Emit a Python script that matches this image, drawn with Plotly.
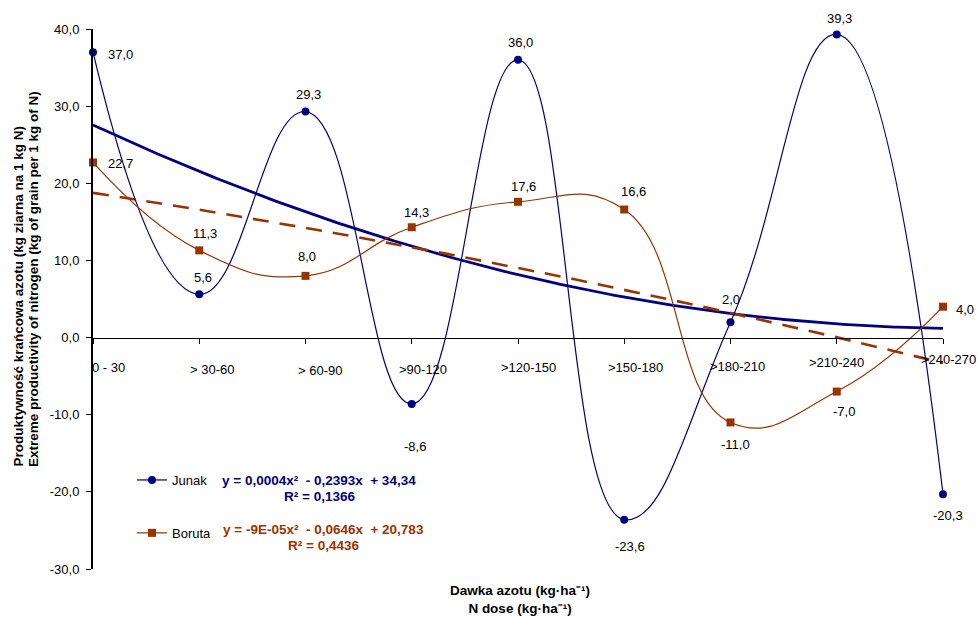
import numpy as np
import plotly.graph_objects as go

# Nitrogen dose classes (kg/ha) and marginal nitrogen productivity per variety
categories = ["0 - 30", "> 30-60", "> 60-90", ">90-120", ">120-150",
              ">150-180", ">180-210", ">210-240", ">240-270"]
dose_upper = [30, 60, 90, 120, 150, 180, 210, 240, 270]
junak = [37.0, 5.6, 29.3, -8.6, 36.0, -23.6, 2.0, 39.3, -20.3]
boruta = [22.7, 11.3, 8.0, 14.3, 17.6, 16.6, -11.0, -7.0, 4.0]
y_ticks = [-30, -20, -10, 0, 10, 20, 30, 40]

junak_eq = ["y = 0,0004x²  - 0,2393x  + 34,34", "R² = 0,1366"]
boruta_eq = ["y = -9E-05x²  - 0,0646x  + 20,783", "R² = 0,4436"]
y_title = ["Produktywność krańcowa azotu (kg ziarna na 1 kg N)",
           "Extreme productivity of nitrogen (kg of grain per 1 kg of N)"]
x_title = ["Dawka azotu (kg·ha⁻¹)", "N dose (kg·ha⁻¹)"]

NAVY = "#000080"
BROWN = "#993300"
FONT = "Liberation Sans, Arial, sans-serif"

# label offsets (px, screen direction) relative to each point
junak_off = [(27, 2), (4, -17), (3, -17), (3, 43), (2, -17), (6, 27), (0, -23), (3, -16), (5, 21)]
boruta_off = [(27, 1), (6, -17), (1, -19), (5, -15), (5, -15), (9, -18), (5, 22), (7, 20), (22, 3)]
# category label offsets below the zero line
cat_off = [(15, 30), (13, 32), (14, 33), (11, 32), (10, 30), (11, 30), (7, 29), (0, 25), (5, 22)]

x_idx = list(range(len(categories)))

fig = go.Figure()

# quadratic trend lines fitted against the dose
xs = np.linspace(0, len(categories) - 1, 300)
dose_fine = np.interp(xs, x_idx, dose_upper)
cj = np.polyfit(dose_upper, junak, 2)
cb = np.polyfit(dose_upper, boruta, 2)

fig.add_trace(go.Scatter(x=xs, y=np.polyval(cj, dose_fine), mode="lines",
                         line=dict(color=NAVY, width=2.8), showlegend=False,
                         hoverinfo="skip"))
fig.add_trace(go.Scatter(x=xs, y=np.polyval(cb, dose_fine), mode="lines",
                         line=dict(color=BROWN, width=2.6, dash="16px,11px"),
                         showlegend=False, hoverinfo="skip"))

fig.add_trace(go.Scatter(x=x_idx, y=junak, name="Junak", mode="lines+markers",
                         line=dict(color=NAVY, width=1.2, shape="spline", smoothing=1.3),
                         marker=dict(symbol="circle", size=8, color=NAVY),
                         cliponaxis=False, legendgroup="j"))
fig.add_trace(go.Scatter(x=x_idx, y=boruta, name="Boruta", mode="lines+markers",
                         line=dict(color=BROWN, width=1.2, shape="spline", smoothing=1.3),
                         marker=dict(symbol="square", size=8, color=BROWN),
                         cliponaxis=False, legendgroup="b"))

annotations = []
for vals, offs in ((junak, junak_off), (boruta, boruta_off)):
    for i, (v, (dx, dy)) in enumerate(zip(vals, offs)):
        annotations.append(dict(
            x=i, y=v, xref="x", yref="y", text=f"{v:.1f}".replace(".", ","),
            showarrow=False, xshift=dx, yshift=-dy,
            font=dict(family=FONT, size=13, color="black")))

for i, (lab, (dx, dy)) in enumerate(zip(categories, cat_off)):
    annotations.append(dict(
        x=i, y=0, xref="x", yref="y", text=lab, showarrow=False,
        xanchor="center", yanchor="middle", xshift=dx, yshift=-dy,
        font=dict(family=FONT, size=13, color="black")))

L, R, T, B = 93, 943, 29, 569
W, H = 979, 617


def px(xp):
    return (xp - L) / (R - L)


def py(yp):
    return (B - yp) / (B - T)


bold = dict(family=FONT, weight="bold")
for lines, color, spots in ((junak_eq, NAVY, ((319, 480), (319, 496))),
                            (boruta_eq, BROWN, ((323, 529), (323, 545)))):
    for line, (xc, yc) in zip(lines, spots):
        annotations.append(dict(
            x=px(xc), y=py(yc), xref="paper", yref="paper", text=line,
            showarrow=False, xanchor="center", yanchor="middle",
            font=dict(size=13.5, color=color, **bold)))
for line, xc in zip(y_title, (18, 33)):
    annotations.append(dict(
        x=px(xc), y=py(469), xref="paper", yref="paper", text=line,
        textangle=-90, showarrow=False, xanchor="center", yanchor="bottom",
        font=dict(size=13.5, color="black", **bold)))
annotations.append(dict(
    x=px(520), y=py(617), xref="paper", yref="paper", text="<br>".join(x_title),
    showarrow=False, xanchor="center", yanchor="bottom", align="center",
    borderpad=0, font=dict(size=13.5, color="black", **bold)))

fig.update_layout(
    width=W, height=H,
    margin=dict(l=L, r=W - R, t=T, b=H - B),
    plot_bgcolor="white", paper_bgcolor="white",
    font=dict(family=FONT, size=13, color="black"),
    annotations=annotations,
    xaxis=dict(range=[0, len(categories) - 1], tickvals=x_idx, showticklabels=False,
               showgrid=False, zeroline=False, showline=True, linecolor="black",
               linewidth=1, ticks="outside", ticklen=5, tickcolor="black",
               anchor="free", position=(0 - y_ticks[0]) / (y_ticks[-1] - y_ticks[0])),
    yaxis=dict(range=[y_ticks[0], y_ticks[-1]], tickvals=y_ticks,
               ticktext=[f"{t:.1f}".replace(".", ",") for t in y_ticks],
               showgrid=False, zeroline=False, showline=True, linecolor="black",
               linewidth=2, ticks="outside", ticklen=5, tickcolor="black",
               ticklabelstandoff=4,
               tickfont=dict(family=FONT, size=13, color="black")),
    legend=dict(x=px(132), y=py(465), xanchor="left", yanchor="top",
                bgcolor="rgba(0,0,0,0)", tracegroupgap=33,
                font=dict(family=FONT, size=13, color="black")),
    showlegend=True,
)

fig.write_html("out.html")
